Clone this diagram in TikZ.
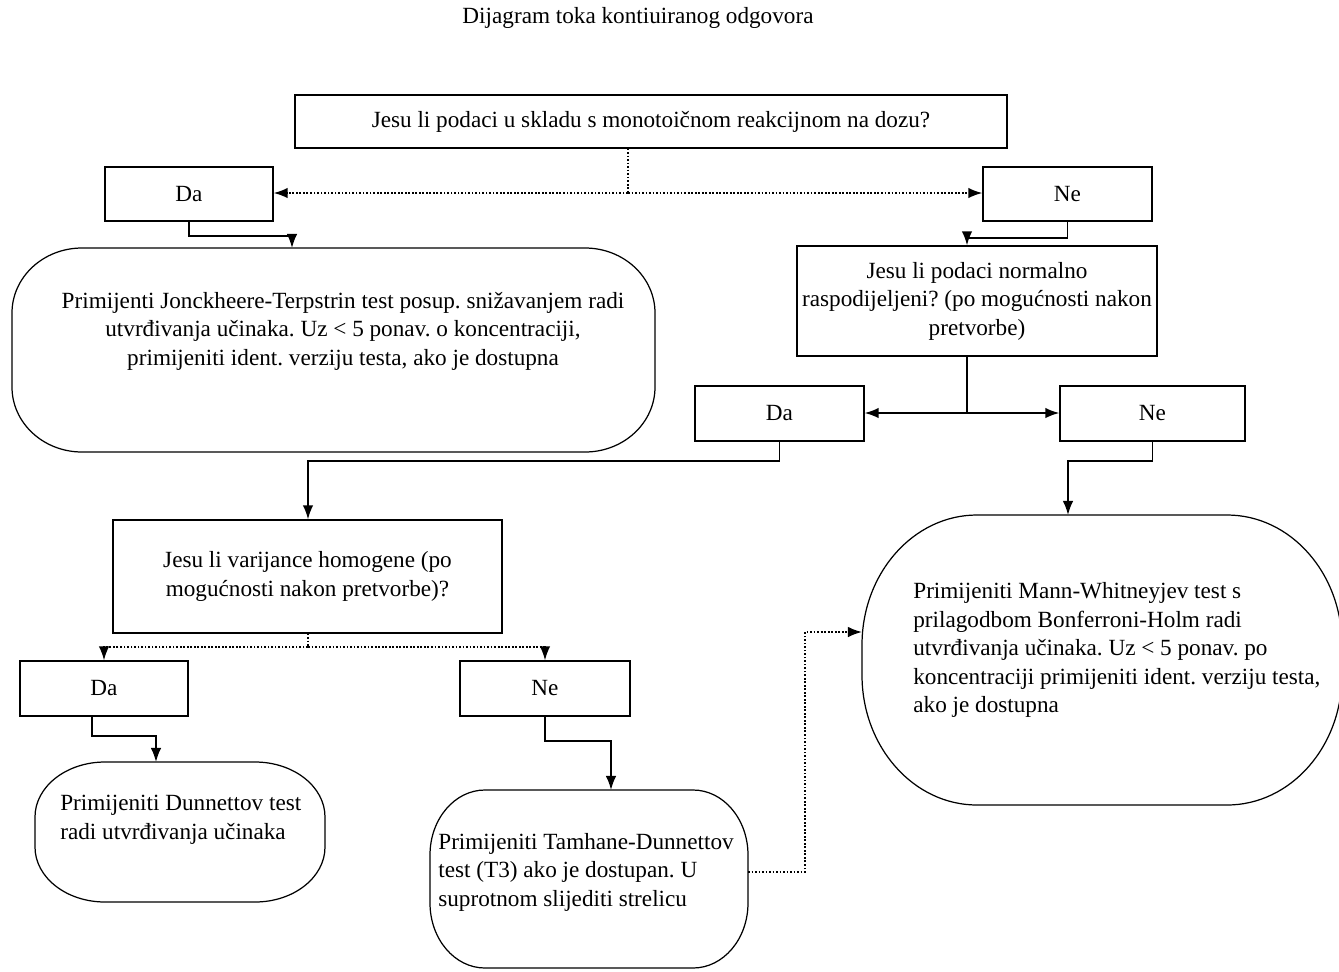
\documentclass[tikz,border=0pt]{standalone}
\usepackage{fontspec}
\setmainfont{Liberation Serif}
\usetikzlibrary{arrows.meta}
\frenchspacing

\tikzset{
  box/.style={draw, line width=0.7pt, inner sep=2pt, align=center},
  spot/.style={inner sep=0pt, outer sep=0pt},
  ovalline/.style={line width=0.7pt},
  txt/.style={inner sep=0pt, align=center},
  ltxt/.style={inner sep=0pt, align=left, anchor=west},
  conn/.style={line width=1pt, -{Latex[length=8pt,width=6pt]}},
  dotconn/.style={conn, densely dotted},
}
% rounded outline round a named area: node, x radius, y radius
\newcommand\ovalround[3]{%
  \draw[ovalline] ([xshift=#2]#1.north west) -- ([xshift=-#2]#1.north east)
    arc[start angle=90, end angle=0, x radius=#2, y radius=#3]
    -- ([yshift=#3]#1.south east)
    arc[start angle=0, end angle=-90, x radius=#2, y radius=#3]
    -- ([xshift=#2]#1.south west)
    arc[start angle=-90, end angle=-180, x radius=#2, y radius=#3]
    -- ([yshift=-#3]#1.north west)
    arc[start angle=180, end angle=90, x radius=#2, y radius=#3] -- cycle;}

\begin{document}
\begin{tikzpicture}[x=0.02cm, y=-0.02cm, font=\fontsize{13.2}{16.2}\selectfont]
  \useasboundingbox (0,0) rectangle (1339,971);

  \node[txt] (title) at (638,18) {Dijagram toka kontiuiranog odgovora};

  % first question
  \node[box, minimum width=712*0.02cm, minimum height=53*0.02cm] (q1) at (651,121.5)
    {Jesu li podaci u skladu s monotoičnom reakcijnom na dozu?};
  \node[box, minimum width=168*0.02cm, minimum height=54*0.02cm] (da1) at (189,194) {Da};
  \node[box, minimum width=169*0.02cm, minimum height=54*0.02cm] (ne1) at (1067.5,194) {Ne};

  % Jonckheere
  \node[spot, minimum width=643*0.02cm, minimum height=204*0.02cm] (jt) at (333.5,350) {};
  \ovalround{jt}{1.4cm}{1.3cm}
  \node[txt] (jtt) at (343,331)
    {Primijenti Jonckheere-Terpstrin test posup. snižavanjem radi\\
     utvrđivanja učinaka. Uz < 5 ponav. o koncentraciji,\\
     primijeniti ident. verziju testa, ako je dostupna};

  % normality
  \node[box, minimum width=360*0.02cm, minimum height=110*0.02cm] (q2) at (977,301)
    {Jesu li podaci normalno\\ raspodijeljeni? (po mogućnosti nakon\\ pretvorbe)};
  \node[box, minimum width=169*0.02cm, minimum height=55*0.02cm] (da2) at (779.5,413.5) {Da};
  \node[box, minimum width=185*0.02cm, minimum height=55*0.02cm] (ne2) at (1152.5,413.5) {Ne};

  % variances
  \node[box, minimum width=389*0.02cm, minimum height=113*0.02cm] (q3) at (307.5,576.5)
    {Jesu li varijance homogene (po\\ mogućnosti nakon pretvorbe)?};
  \node[box, minimum width=168*0.02cm, minimum height=55*0.02cm] (da3) at (104,688.5) {Da};
  \node[box, minimum width=170*0.02cm, minimum height=55*0.02cm] (ne3) at (545,688.5) {Ne};

  % Dunnett
  \node[spot, minimum width=290*0.02cm, minimum height=140*0.02cm] (dn) at (180,832) {};
  \ovalround{dn}{1.4cm}{1.1cm}
  \node[ltxt] (dnt) at (60,820)
    {Primijeniti Dunnettov test\\ radi utvrđivanja učinaka};

  % Tamhane
  \node[spot, minimum width=318*0.02cm, minimum height=178*0.02cm] (tm) at (589,879) {};
  \ovalround{tm}{1.1cm}{1.3cm}
  \node[ltxt] (tmt) at (438,872)
    {Primijeniti Tamhane-Dunnettov\\ test (T3) ako je dostupan. U\\ suprotnom slijediti strelicu};

  % Mann-Whitney
  \node[spot, minimum width=480*0.02cm, minimum height=290*0.02cm] (mw) at (1102,660) {};
  \ovalround{mw}{2.3cm}{2.6cm}
  \node[ltxt] (mwt) at (913,650)
    {Primijeniti Mann-Whitneyjev test s\\ prilagodbom Bonferroni-Holm radi\\
     utvrđivanja učinaka. Uz < 5 ponav. po\\
     koncentraciji primijeniti ident. verziju testa,\\ ako je dostupna};

  % connectors
  \coordinate (s1) at (628,193);
  \draw[densely dotted, line width=1pt] (q1.south -| s1) -- (s1);
  \draw[dotconn] (s1) -- (s1 -| da1.east);
  \draw[dotconn] (s1) -- (s1 -| ne1.west);
  \draw[conn] (da1.south) -- ++(0,14) -| (jt.north -| 292,0);
  \draw[conn] (ne1.south) -- ++(0,16) -| (q2.north -| 967,0);

  \coordinate (s2) at (967,413);
  \draw[line width=1pt] (q2.south -| s2) -- (s2);
  \draw[conn] (s2) -- (s2 -| da2.east);
  \draw[conn] (s2) -- (s2 -| ne2.west);
  \draw[conn] (da2.south) -- ++(0,19) -| (q3.north -| 308,0);
  \draw[conn] (ne2.south) -- ++(0,19) -| (mw.north -| 1068,0);

  \coordinate (s3) at (308,647);
  \draw[densely dotted, line width=1pt] (q3.south -| s3) -- (s3);
  \draw[dotconn] (s3) -| (da3.north);
  \draw[dotconn] (s3) -| (ne3.north);
  \draw[conn] (da3.south -| 92,0) -- ++(0,19) -| (dn.north -| 156,0);
  \draw[conn] (ne3.south) -- ++(0,24) -| (tm.north -| 611,0);
  \draw[dotconn] (tm.east |- 0,872) -- ++(57,0) |- (mw.west |- 0,632);
\end{tikzpicture}
\end{document}
